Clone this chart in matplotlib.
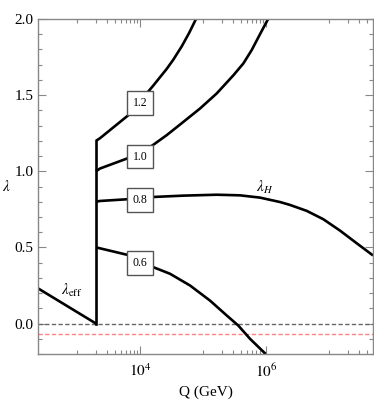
import matplotlib
matplotlib.use('Agg')
import matplotlib.pyplot as plt
import numpy as np

plt.rcParams['font.family'] = ['Liberation Serif', 'DejaVu Serif']
plt.rcParams['mathtext.fontset'] = 'stix'

# data (Q in GeV, lambda)
Q_eff = [243, 2000]
lam_eff = [0.23, 0.0]

Q_thr = 2000
lam_thr = [0.0, 1.2]

Q_12 = [2000, 2317, 6520, 15900, 20800, 26500, 33800, 45900, 60000, 77400, 85000]
lam_12 = [1.20, 1.217, 1.368, 1.558, 1.618, 1.672, 1.733, 1.82, 1.907, 2.0, 2.06]

Q_10 = [2000, 2317, 6150, 10000, 15900, 26500, 48700, 89600, 165000, 303000, 437000,
        593000, 803000, 1080000, 1200000]
lam_10 = [1.00, 1.018, 1.083, 1.12, 1.171, 1.237, 1.324, 1.412, 1.511, 1.63, 1.708,
          1.796, 1.90, 2.0, 2.04]

Q_08 = [2000, 2317, 6150, 15900, 48700, 165000, 386000, 803000, 1670000, 2400000,
        4430000, 8130000, 1.5e7, 2.76e7, 5e7]
lam_08 = [0.80, 0.805, 0.816, 0.831, 0.84, 0.846, 0.842, 0.827, 0.798, 0.779,
          0.74, 0.685, 0.61, 0.527, 0.447]

Q_06 = [2000, 2317, 6940, 16300, 29900, 62200, 129000, 238000, 363000, 557000, 989000]
lam_06 = [0.50, 0.494, 0.447, 0.37, 0.327, 0.25, 0.151, 0.053, -0.013, -0.10, -0.2]

lam_zero = 0.0
lam_red = -0.068

box_labels = ['1.2', '1.0', '0.8', '0.6']
box_Q = 1e4
box_lam = [1.451, 1.097, 0.809, 0.396]

fig = plt.figure(figsize=(3.74, 4.0), dpi=100)
ax = fig.add_axes([0.1024, 0.115, 0.895, 0.8375])
ax.set_xscale('log')
ax.set_xlim(243, 5e7)
ax.set_ylim(-0.2, 2.0)

ax.axhline(lam_zero, color='#666666', lw=1.0, dashes=(3.1, 1.7))
ax.axhline(lam_red, color='#ff6060', lw=1.0, dashes=(3.1, 1.7), alpha=0.8)

for qq, ll in [(Q_eff, lam_eff), (Q_12, lam_12), (Q_10, lam_10), (Q_08, lam_08), (Q_06, lam_06)]:
    ax.plot(qq, ll, color='black', lw=1.9, solid_capstyle='butt', solid_joinstyle='round')
ax.plot([Q_thr, Q_thr], lam_thr, color='black', lw=1.9)

for lab, yy in zip(box_labels, box_lam):
    ax.text(box_Q, yy, lab, ha='center', va='center', fontsize=8.5,
            bbox=dict(boxstyle='square,pad=0.5', fc='white', ec='#555555', lw=1.0))

ax.text(9.6e5, 0.895, r'$\lambda_H$', fontsize=11, ha='center', va='center')
ax.text(835, 0.215, r'$\lambda_{\rm eff}$', fontsize=11, ha='center', va='center')

# ticks
ax.set_yticks([0.0, 0.5, 1.0, 1.5, 2.0])
ax.set_yticklabels(['0.0', '0.5', '1.0', '1.5', '2.0'])
ax.set_yticks(np.arange(-0.2, 2.01, 0.1), minor=True)
ax.set_xticks([1e4, 1e6])
ax.set_xticklabels([r'$10^4$', r'$10^6$'])
minor_x = [k * 10.0**n for n in (3, 5, 7) for k in range(1, 10)]
ax.set_xticks([m for m in minor_x if 243 < m < 5e7], minor=True)
ax.xaxis.set_minor_formatter(plt.NullFormatter())

ax.tick_params(which='both', direction='in', top=True, right=True, color='#888888',
               labelsize=11, width=0.8)
ax.tick_params(which='major', length=6)
ax.tick_params(which='minor', length=3)
ax.tick_params(axis='x', pad=6)
for s in ax.spines.values():
    s.set_color('#888888')
    s.set_linewidth(1.0)

ax.set_xlabel('Q (GeV)', fontsize=11, labelpad=4)
ax.set_ylabel(r'$\lambda$', fontsize=11, rotation=0, labelpad=6, va='center')

fig.savefig('out.png', dpi=100)
